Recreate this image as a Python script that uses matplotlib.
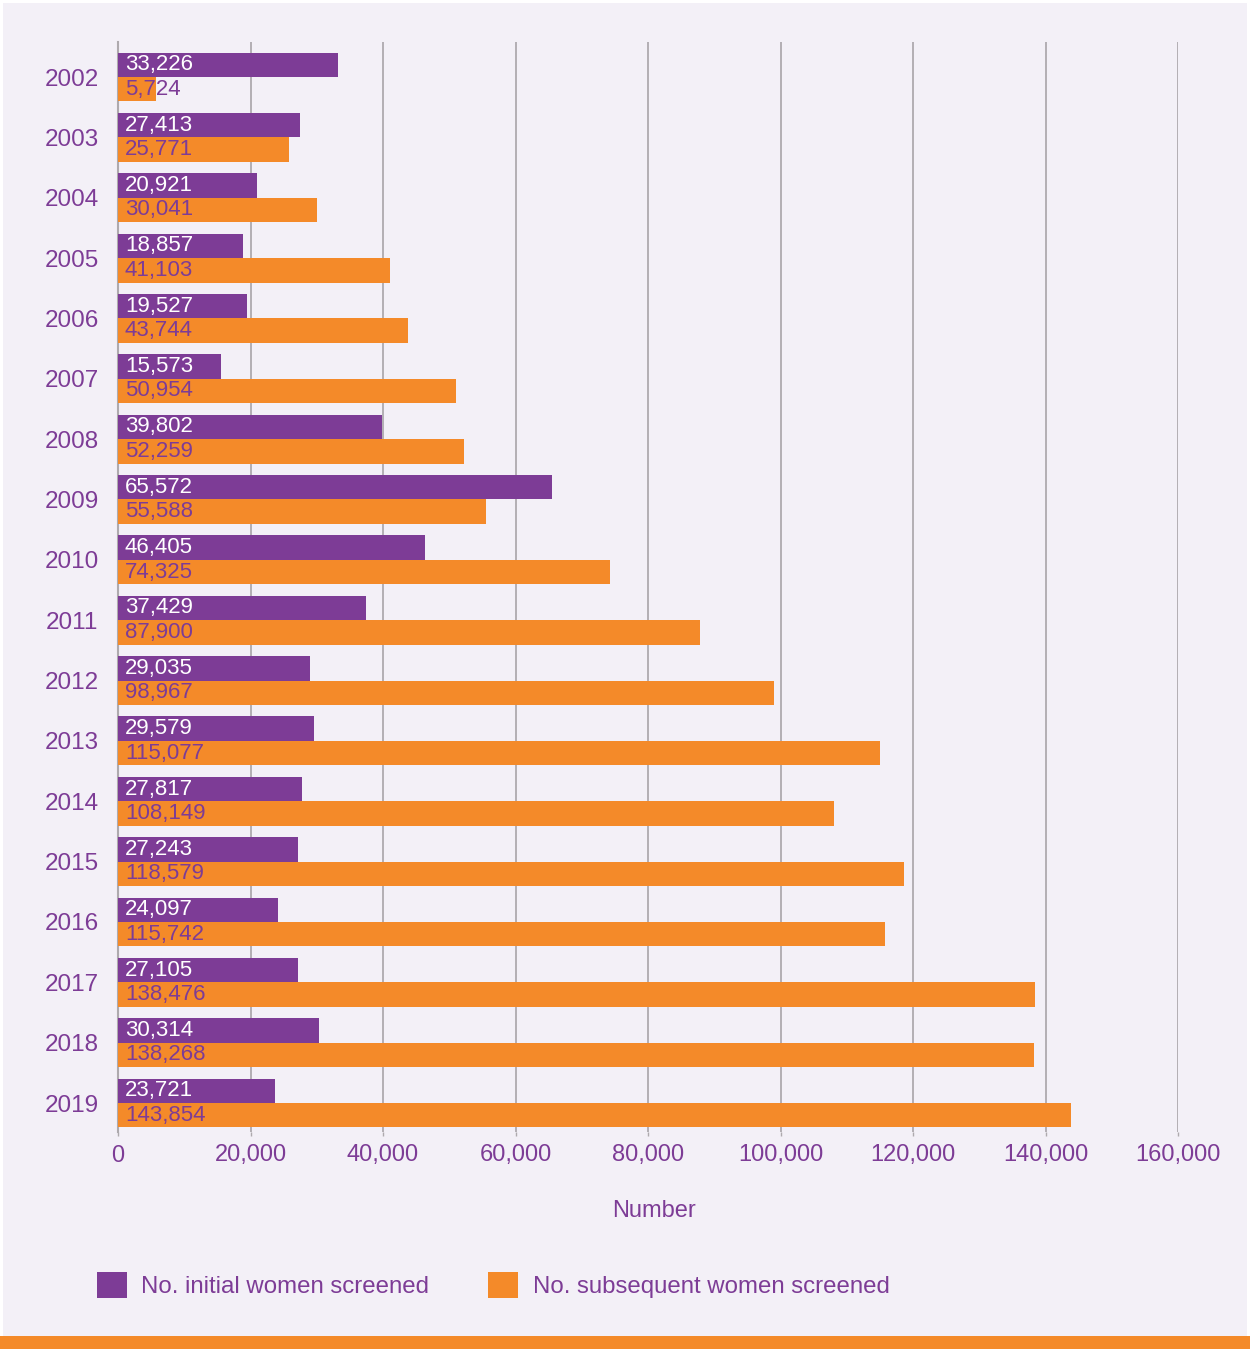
"""Initial vs subsequent women screened per year, horizontal grouped bars."""

import matplotlib
matplotlib.use("Agg")
import matplotlib.pyplot as plt
import numpy as np
from matplotlib.patches import Patch, Rectangle
from matplotlib.ticker import FuncFormatter

years = ["2002", "2003", "2004", "2005", "2006", "2007", "2008", "2009", "2010",
         "2011", "2012", "2013", "2014", "2015", "2016", "2017", "2018", "2019"]
initial = [33226, 27413, 20921, 18857, 19527, 15573, 39802, 65572, 46405,
           37429, 29035, 29579, 27817, 27243, 24097, 27105, 30314, 23721]
subsequent = [5724, 25771, 30041, 41103, 43744, 50954, 52259, 55588, 74325,
              87900, 98967, 115077, 108149, 118579, 115742, 138476, 138268, 143854]
x_ticks = [0, 20000, 40000, 60000, 80000, 100000, 120000, 140000, 160000]

PURPLE = "#7d3c96"
ORANGE = "#f48a29"
BG = "#f3f0f7"
GRID = "#aeaaae"
FONT = "Liberation Sans"

plt.rcParams["font.family"] = [FONT, "DejaVu Sans"]

W, H = 1250, 1349
fig = plt.figure(figsize=(W / 100, H / 100), dpi=100, facecolor="white")
# lavender panel with thin white margin, orange stripe at the bottom
fig.add_artist(Rectangle((3 / W, 13 / H), 1244 / W, 1333 / H,
                         transform=fig.transFigure, facecolor=BG,
                         edgecolor="none", zorder=-10))
fig.add_artist(Rectangle((0, 0), 1, 13 / H, transform=fig.transFigure,
                         facecolor=ORANGE, edgecolor="none", zorder=-10))

ax = fig.add_axes([118 / W, 1 - 1132 / H, 1060 / W, 1090 / H])
ax.set_facecolor("none")

y = np.arange(len(years))
h = 0.405
ax.barh(y - h / 2, initial, height=h, color=PURPLE, zorder=3)
ax.barh(y + h / 2, subsequent, height=h, color=ORANGE, zorder=3)

for yi, v in zip(y, initial):
    ax.annotate(f"{v:,}", (0, yi - h / 2), xytext=(5, 0),
                textcoords="offset points", va="center", ha="left",
                color="white", fontsize=16, zorder=4)
for yi, v in zip(y, subsequent):
    ax.annotate(f"{v:,}", (0, yi + h / 2), xytext=(5, 0),
                textcoords="offset points", va="center", ha="left",
                color=PURPLE, fontsize=16, zorder=4)

ax.set_xlim(0, 160000)
ax.set_ylim(17.48, -0.58)
ax.set_xticks(x_ticks)
ax.xaxis.set_major_formatter(FuncFormatter(lambda v, _: f"{int(v):,}"))
ax.set_yticks(y)
ax.set_yticklabels(years)
ax.tick_params(axis="x", colors=GRID, labelcolor=PURPLE, labelsize=17,
               length=3, width=1, pad=6)
ax.tick_params(axis="y", length=0, labelcolor=PURPLE, labelsize=17.5, pad=14)
ax.grid(axis="x", color=GRID, linewidth=1.3, zorder=0)
for side in ("top", "right", "bottom"):
    ax.spines[side].set_visible(False)
ax.spines["left"].set_color(GRID)
ax.spines["left"].set_linewidth(1.5)
ax.set_xlabel("Number", color=PURPLE, fontsize=17, labelpad=25)
ax.xaxis.set_label_coords(0.506, -0.062)

handles = [Patch(facecolor=PURPLE, label="No. initial women screened"),
           Patch(facecolor=ORANGE, label="No. subsequent women screened")]
leg = fig.legend(handles=handles, loc="center left",
                 bbox_to_anchor=(97 / W, 1 - 1285 / H), ncol=2, frameon=False,
                 fontsize=17.3, handlelength=1.25, handleheight=1.25,
                 handletextpad=0.6, columnspacing=2.45, borderpad=0,
                 borderaxespad=0)
for t in leg.get_texts():
    t.set_color(PURPLE)

fig.savefig("out.png", dpi=100, facecolor=fig.get_facecolor())
